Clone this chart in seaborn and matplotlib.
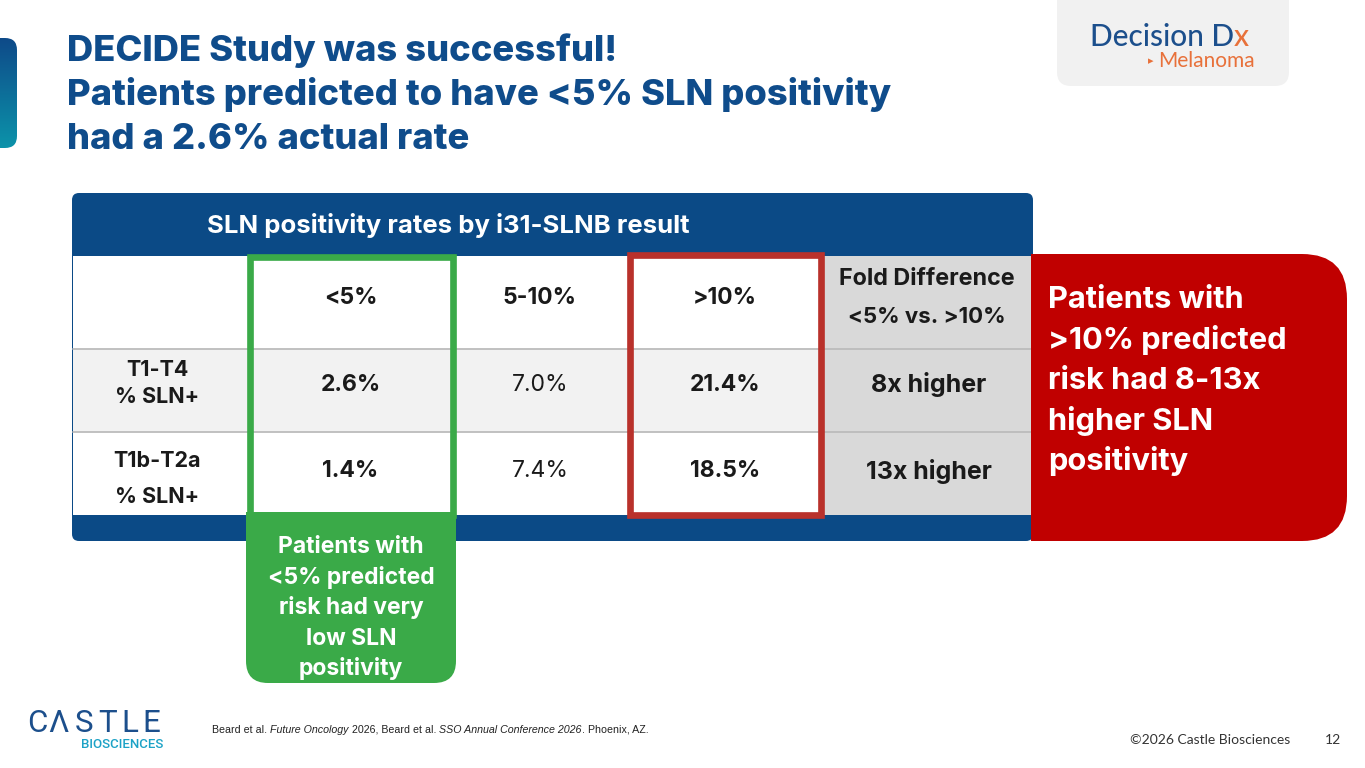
import numpy as np
import pandas as pd
import matplotlib
matplotlib.use("Agg")
import matplotlib.pyplot as plt
import seaborn as sns
from matplotlib.patches import PathPatch, Rectangle
from matplotlib.path import Path
from matplotlib.colors import ListedColormap, LinearSegmentedColormap

sns.set_theme(style="white")
plt.rcParams["font.family"] = ["Inter", "DejaVu Sans"]

# ---------------- data ----------------
title_lines = ["DECIDE Study was successful!",
               "Patients predicted to have <5% SLN positivity",
               "had a 2.6% actual rate"]
table_title = "SLN positivity rates by i31-SLNB result"
risk_groups = ["<5%", "5-10%", ">10%"]
stage_groups = ["T1-T4", "T1b-T2a"]
stage_sub = ["% SLN+", "% SLN+"]
rate_t1_t4 = [2.6, 7.0, 21.4]
rate_t1b_t2a = [1.4, 7.4, 18.5]
fold_header = ["Fold Difference", "<5% vs. >10%"]
fold_values = ["8x higher", "13x higher"]
green_note = ["Patients with", "<5% predicted", "risk had very", "low SLN", "positivity"]
red_note = ["Patients with", ">10% predicted", "risk had 8-13x", "higher SLN", "positivity"]
citation = [("Beard et al. ", "normal"), ("Future Oncology", "italic"),
            (" 2026, Beard et al. ", "normal"), ("SSO Annual Conference 2026", "italic"),
            (". Phoenix, AZ.", "normal")]
copyright_text = "©2026 Castle Biosciences"
page_number = "12"
castle_letters = ["C", "Λ", "S", "T", "L", "E"]

# ---------------- styles ----------------
W, H = 1365, 768
NAVY = "#0b4a86"
TITLE_BLUE = "#0f4c8b"
GREEN = "#3aaa48"
RED_FRAME = "#b9312b"
RED_FILL = "#c00000"
TXT = "#1a1a1a"

fig = plt.figure(figsize=(W / 100, H / 100), dpi=100)
fig.patch.set_facecolor("white")


def px_rect(x0, y0, x1, y1):
    return [x0 / W, 1 - y1 / H, (x1 - x0) / W, (y1 - y0) / H]


def rpath(x0, y0, x1, y1, tl=0, tr=0, br=0, bl=0):
    v, c = [], []
    v.append((x0 + tl, y0)); c.append(Path.MOVETO)
    v.append((x1 - tr, y0)); c.append(Path.LINETO)
    if tr:
        v += [(x1, y0), (x1, y0 + tr)]; c += [Path.CURVE3] * 2
    v.append((x1, y1 - br)); c.append(Path.LINETO)
    if br:
        v += [(x1, y1), (x1 - br, y1)]; c += [Path.CURVE3] * 2
    v.append((x0 + bl, y1)); c.append(Path.LINETO)
    if bl:
        v += [(x0, y1), (x0, y1 - bl)]; c += [Path.CURVE3] * 2
    v.append((x0, y0 + tl)); c.append(Path.LINETO)
    if tl:
        v += [(x0, y0), (x0 + tl, y0)]; c += [Path.CURVE3] * 2
    v.append((x0 + tl, y0)); c.append(Path.CLOSEPOLY)
    return Path(v, c)


def pixel_axes(zorder):
    ax = fig.add_axes([0, 0, 1, 1], zorder=zorder)
    ax.set_xlim(0, W)
    ax.set_ylim(H, 0)
    ax.axis("off")
    ax.patch.set_visible(False)
    return ax


bg = pixel_axes(0)

# left accent bar with gradient
bar = PathPatch(rpath(-20, 38, 17, 148, tr=12, br=12), fc="none", ec="none")
bg.add_patch(bar)
grad = np.linspace(0, 1, 200).reshape(-1, 1)
im = bg.imshow(grad, extent=(-20, 17, 148, 38), aspect="auto", origin="upper",
               cmap=LinearSegmentedColormap.from_list("acc", ["#0e4a89", "#0c93aa"]))
im.set_clip_path(bar)
bg.set_xlim(0, W); bg.set_ylim(H, 0)

# title
for i, line in enumerate(title_lines):
    bg.text(67, 61 + 44 * i, line, fontsize=26.2, fontweight="heavy",
            color=TITLE_BLUE, va="baseline", ha="left")

# DecisionDx logo box
bg.add_patch(PathPatch(rpath(1057, -20, 1289, 86, bl=14, br=14), fc="#f1f1f1", ec="none"))
t1 = bg.text(1090, 46, "Decision D", fontsize=21.5, color="#1c4f8c", fontweight="medium",
             family=["Lato", "DejaVu Sans"], va="baseline", ha="left")
bg.annotate("x", xy=(1, 0), xycoords=t1, fontsize=21.5, color="#e8713a", fontweight="medium",
            family=["Lato", "DejaVu Sans"], va="bottom", ha="left")
bg.text(1151, 61, "▸", fontsize=8, color="#e8713a", family="DejaVu Sans",
        va="center", ha="center")
bg.text(1158, 67, "Melanoma", fontsize=15, color="#e8713a",
        family=["Lato", "DejaVu Sans"], va="baseline", ha="left")

# table frame
bg.add_patch(PathPatch(rpath(72, 193, 1033, 541, tl=7, tr=7, br=7, bl=7), fc=NAVY, ec="none"))
bg.add_patch(Rectangle((73, 256), 1031 - 73, 515 - 256, fc="white", ec="none"))
bg.add_patch(Rectangle((823, 256), 1031 - 823, 349 - 256, fc="#d9d9d9", ec="none"))
bg.text(448, 225, table_title, fontsize=18.5, fontweight="bold", color="white",
        ha="center", va="center")

# header row text
col_edges = [73, 249, 452, 628, 822, 1031]
centers = [(col_edges[k] + col_edges[k + 1]) / 2 for k in range(5)]
for k, g in enumerate(risk_groups):
    bg.text(centers[k + 1], 298, g, fontsize=16.5, fontweight="bold", color=TXT,
            ha="center", va="center")
bg.text(centers[4], 279, fold_header[0], fontsize=16.8, fontweight="bold", color=TXT,
        ha="center", va="center")
bg.text(centers[4], 317, fold_header[1], fontsize=16, fontweight="bold", color=TXT,
        ha="center", va="center")

# body: one seaborn heatmap per column (cell backgrounds)
bg_cmap = ListedColormap(["#ffffff", "#f2f2f2", "#d9d9d9"])
col_names = ["label"] + risk_groups + ["fold"]
codes = pd.DataFrame({"label": [1, 0], risk_groups[0]: [1, 0], risk_groups[1]: [1, 0],
                      risk_groups[2]: [1, 0], "fold": [2, 2]}, index=stage_groups)
values = pd.DataFrame({g: [a, b] for g, a, b in zip(risk_groups, rate_t1_t4, rate_t1b_t2a)},
                      index=stage_groups)
weights = {risk_groups[0]: "bold", risk_groups[1]: "normal", risk_groups[2]: "bold"}
row_dy = [0.43, 0.47]

for k, name in enumerate(col_names):
    ax = fig.add_axes(px_rect(col_edges[k], 349, col_edges[k + 1], 515), zorder=1)
    sns.heatmap(codes[[name]], ax=ax, cmap=bg_cmap, vmin=0, vmax=2, cbar=False,
                xticklabels=False, yticklabels=False)
    ax.set_xlabel(""); ax.set_ylabel("")
    for yl in (0, 1):
        ax.axhline(yl, color="#bcbcbc", lw=1.3, clip_on=False)
    for r in range(2):
        if name == "label":
            ax.text(0.48, r + (0.25 if r == 0 else 0.35), stage_groups[r], fontsize=15.5,
                    fontweight="bold", color=TXT, ha="center", va="center")
            ax.text(0.48, r + (0.58 if r == 0 else 0.78), stage_sub[r], fontsize=15.5,
                    fontweight="bold", color=TXT, ha="center", va="center")
        elif name == "fold":
            ax.text(0.51, r + row_dy[r], fold_values[r], fontsize=18, fontweight="bold",
                    color=TXT, ha="center", va="center")
        else:
            ax.text(0.5, r + row_dy[r], f"{values.loc[stage_groups[r], name]:.1f}%",
                    fontsize=16.5, fontweight=weights[name], color=TXT,
                    ha="center", va="center")

# foreground highlights
fg = pixel_axes(2)
fg.add_patch(PathPatch(rpath(246, 512, 456, 683, br=22, bl=22), fc=GREEN, ec="none"))
fg.add_patch(Rectangle((249.5, 256.5), 203, 258, fill=False, ec=GREEN, lw=4.8))
for i, line in enumerate(green_note):
    fg.text(351, 553 + 30.6 * i, line, fontsize=16.5, fontweight="bold", color="white",
            ha="center", va="baseline")

fg.add_patch(Rectangle((629.5, 254.5), 191, 260.5, fill=False, ec=RED_FRAME, lw=4.8))
fg.add_patch(PathPatch(rpath(1031, 254, 1347, 541, tr=45, br=45), fc=RED_FILL, ec="none"))
for i, line in enumerate(red_note):
    fg.text(1048, 308 + 40.6 * i, line, fontsize=22.2, fontweight="bold", color="white",
            ha="left", va="baseline")

# footer: Castle logo
castle_x = [27, 48, 75, 98, 121, 142]
for ch, cx in zip(castle_letters, castle_x):
    bg.text(cx, 732, ch, fontsize=22.5, color="#1c4f8c",
            family=["Roboto", "DejaVu Sans"], va="baseline", ha="left")
bg.text(163, 748, "BIOSCIENCES", fontsize=9.5, color="#1ca2c6", fontweight="medium",
        family=["Roboto", "DejaVu Sans"], va="baseline", ha="right")

# citation
prev = None
for txt, style in citation:
    kw = dict(fontsize=7.7, color="#222222", fontstyle=style,
              family=["Liberation Sans Narrow", "Liberation Sans", "DejaVu Sans"])
    if prev is None:
        prev = bg.text(212, 733, txt, va="baseline", ha="left", **kw)
    else:
        prev = bg.annotate(txt, xy=(1, 0), xycoords=prev, va="bottom", ha="left", **kw)

bg.text(1290, 744, copyright_text, fontsize=10, color="#333333",
        family=["Lato", "DejaVu Sans"], ha="right", va="baseline")
bg.text(1341, 744, page_number, fontsize=10, color="#333333",
        family=["Lato", "DejaVu Sans"], ha="right", va="baseline")

fig.savefig("out.png", dpi=100, facecolor="white")
